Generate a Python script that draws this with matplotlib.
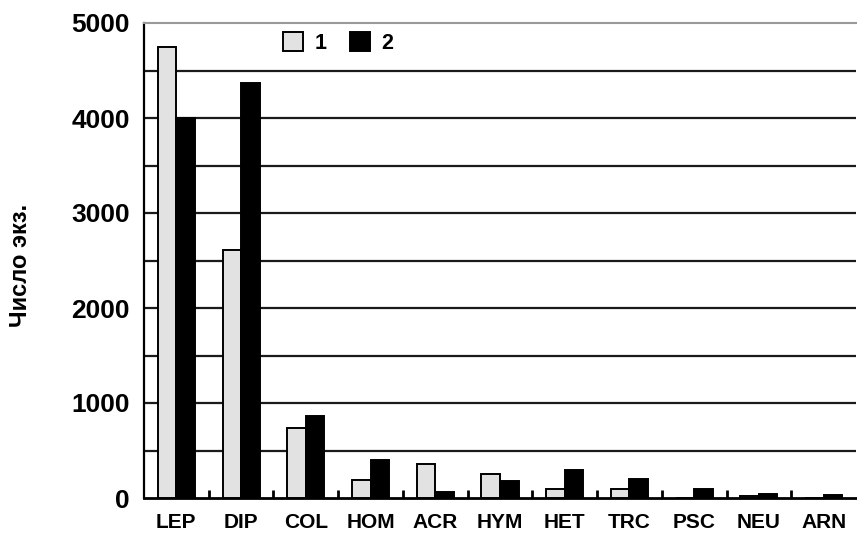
import matplotlib
matplotlib.use("Agg")
import matplotlib.pyplot as plt
import numpy as np
from matplotlib.ticker import FixedLocator

plt.rcParams['font.family'] = ['Liberation Sans', 'DejaVu Sans']
plt.rcParams['font.weight'] = 'bold'

categories = ["LEP", "DIP", "COL", "HOM", "ACR", "HYM", "HET", "TRC", "PSC", "NEU", "ARN"]
series1 = [4750, 2610, 735, 190, 355, 250, 100, 90, 0, 25, 5]
series2 = [4000, 4370, 865, 400, 60, 175, 300, 195, 90, 45, 28]
series_names = ["1", "2"]
y_ticks = [0, 1000, 2000, 3000, 4000, 5000]

fig = plt.figure(figsize=(8.57, 5.37), dpi=100)
ax = fig.add_axes([144 / 857, 1 - 498 / 537, 712 / 857, 475 / 537])

x = np.arange(len(categories))
w = 0.286
ax.bar(x - w / 2, series1, width=w, color="#e2e2e2", edgecolor="black",
       linewidth=1.4, label=series_names[0], zorder=3)
ax.bar(x + w / 2, series2, width=w, color="black", edgecolor="black",
       linewidth=1.4, label=series_names[1], zorder=3)

ax.set_xlim(-0.5, len(categories) - 0.5)
ax.set_ylim(0, 5000)

# horizontal grid every 500
for yv in np.arange(500, 5000, 500):
    ax.axhline(yv, color="#1a1a1a", linewidth=1.6, zorder=1)

ax.yaxis.set_major_locator(FixedLocator(y_ticks))
ax.set_yticklabels([str(v) for v in y_ticks], fontsize=19, fontweight="bold")
ax.tick_params(axis="y", length=0, pad=10)

ax.set_xticks(x)
ax.set_xticklabels(categories, fontsize=15, fontweight="bold")
ax.tick_params(axis="x", which="major", length=0, pad=11)
ax.xaxis.set_minor_locator(FixedLocator(np.arange(0.5, len(categories) - 1, 1.0)))
ax.tick_params(axis="x", which="minor", direction="in", length=6, width=2, color="black")

ax.set_ylabel("Число экз.", fontsize=17, fontweight="bold")
ax.yaxis.set_label_coords(-0.157, 0.49)

ax.spines["right"].set_visible(False)
ax.spines["top"].set_color("#9a9a9a")
ax.spines["top"].set_linewidth(1.5)
ax.spines["left"].set_linewidth(1.6)
ax.spines["bottom"].set_linewidth(2.0)

fig.legend(loc="center", bbox_to_anchor=(338 / 857, 1 - 43 / 537), ncol=2,
           frameon=False, handlelength=0.95, handleheight=1.0,
           handletextpad=0.5, columnspacing=1.1,
           prop={"weight": "bold", "size": 15.5})

fig.savefig("out.png", dpi=100)
